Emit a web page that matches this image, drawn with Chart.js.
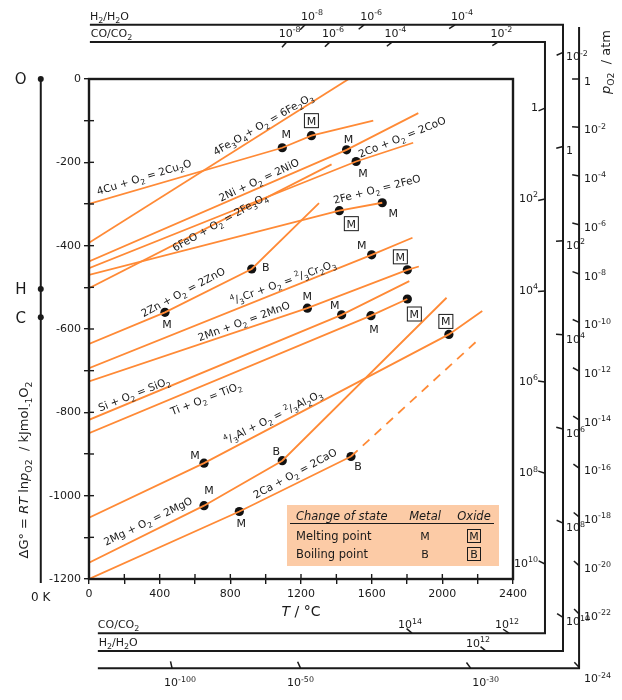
<!DOCTYPE html>
<html lang="en">
<head>
<meta charset="UTF-8">
<title>Ellingham diagram</title>
<script src="https://cdn.jsdelivr.net/npm/chart.js"></script>
<style>
    html, body { margin: 0; padding: 0; background: #ffffff; }
    #wrap { width: 622px; height: 700px; }
</style>
</head>
<body>
<div id="wrap"><canvas id="ellingham" width="622" height="700"></canvas></div>
<script>
// temperature in °C, dG in kJ per mol O2
const cuT = [0, 1094, 1259, 1609];
const cuG = [-300, -165, -136, -100];
const fe3o4T = [0, 1470];
const fe3o4G = [-393, 0];
const niT = [0, 1458, 1864];
const niG = [-438, -170, -82];
const coT = [0, 1512, 1835];
const coG = [-454, -198, -153];
const feT = [0, 1417, 1660];
const feG = [-470, -316, -297];
const feoT = [0, 1373];
const feoG = [-502, -205];
const znT = [0, 430, 921, 1302];
const znG = [-636, -560, -456, -298];
const crT = [0, 1600, 1831];
const crG = [-694, -422, -381];
const mnT = [0, 1236, 1802, 1867];
const mnG = [-726, -550, -458, -450];
const siT = [0, 1430, 1813];
const siG = [-818, -566, -485];
const tiT = [0, 1596, 1802];
const tiG = [-850, -568, -528];
const alT = [0, 651, 2037, 2226];
const alG = [-1053, -922, -613, -557];
const mgT = [0, 651, 1094, 2024];
const mgG = [-1161, -1024, -916, -525];
const caT = [0, 851, 1483];
const caG = [-1200, -1038, -906];
const caGasT = [1483, 2213];
const caGasG = [-906, -622];

// melting / boiling points
const markT = [1094, 1259, 1458, 1512, 1417, 1660, 921, 430, 1600, 1802, 1236, 1430, 1596, 1802, 2037, 651, 651, 1094, 851, 1483];
const markG = [-165, -136, -170, -198, -316, -297, -456, -560, -422, -458, -550, -566, -568, -528, -613, -922, -1024, -916, -1038, -906];
const markText = ['M', 'M', 'M', 'M', 'M', 'M', 'B', 'M', 'M', 'M', 'M', 'M', 'M', 'M', 'M', 'M', 'M', 'B', 'M', 'B'];
const markOxide = [false, true, false, false, true, false, false, false, false, true, false, false, false, true, true, false, false, false, false, false];

const reactionLabels = [
    '4Cu + O_{2} = 2Cu_{2}O', '4Fe_{3}O_{4}+ O_{2} = 6Fe_{2}O_{3}', '2Ni + O_{2} = 2NiO',
    '6FeO + O_{2} = 2Fe_{3}O_{4}', '2Co + O_{2} = 2CoO', '2Fe + O_{2} = 2FeO', '2Zn + O_{2} = 2ZnO',
    '^{4}/_{3}Cr + O_{2} = ^{2}/_{3}Cr_{2}O_{3}', '2Mn + O_{2} = 2MnO', 'Si + O_{2} = SiO_{2}',
    'Ti + O_{2} = TiO_{2}', '^{4}/_{3}Al + O_{2} = ^{2}/_{3}Al_{2}O_{3}', '2Mg + O_{2} = 2MgO', '2Ca + O_{2} = 2CaO'
];

// nomograph scales (positions)
const refNames = ['O', 'H', 'C'];
const refG = [0, -504, -572];
const pO2Labels = ['1', '10^{-2}', '10^{-4}', '10^{-6}', '10^{-8}', '10^{-10}', '10^{-12}', '10^{-14}', '10^{-16}', '10^{-18}', '10^{-20}', '10^{-22}', '10^{-24}'];
const pO2RightG = [0, -116, -233, -350, -468, -584, -701, -818, -934, -1051, -1168, -1284, -1412];
const pO2BottomLabels = ['10^{-100}', '10^{-50}', '10^{-30}'];
const pO2BottomT = [470, 1197, 2160];
const h2RightLabels = ['10^{-2}', '1', '10^{2}', '10^{4}', '10^{6}', '10^{8}', '10^{10}'];
const h2RightG = [64, -162, -388, -614, -840, -1066, -1292];
const h2TopLabels = ['10^{-8}', '10^{-6}', '10^{-4}'];
const h2TopT = [1223, 1557, 2072];
const h2BottomLabels = ['10^{12}'];
const h2BottomT = [2247];
const coRightLabels = ['1', '10^{2}', '10^{4}', '10^{6}', '10^{8}', '10^{10}'];
const coRightG = [-70, -288, -509, -727, -946, -1164];
const coTopLabels = ['10^{-8}', '10^{-6}', '10^{-4}', '10^{-2}'];
const coTopT = [1119, 1364, 1717, 2317];
const coBottomLabels = ['10^{14}', '10^{12}'];
const coBottomT = [1828, 2377];

// ---- styling / placement ----
const ORANGE = '#FF8A36';
const INK = '#1a1a1a';
const FONT = '"DejaVu Sans", Verdana, sans-serif';
const T0K = -273;

const labelPos = [[311, -235, -17], [985, -108, -30], [962, -242, -25], [741, -343, -29.5], [1772, -139, -22],
    [1630, -264, -14.5], [532, -511, -28], [1098, -487, -20], [877, -581, -20], [255, -756, -21.5],
    [662, -766, -21], [1042, -811, -26.5], [334, -1061, -26], [1166, -946, -28.5]];
const markDx = [4, 0, 2, 7, 12, 11, 14, 2, -10, -7, 0, -7, 3, 7, -3, -9, 5, -6, 2, 7];
const markDy = [-14, -15, -11, 12, 13, 10, -2, 12, -10, -13, -12, -10, 13, 15, -13, -8, -16, -10, 12, 10];

function parseRich(s) {
    const out = [];
    let it = false;
    s.split(/(_\{[^}]*\}|\^\{[^}]*\}|\*)/).forEach(p => {
        if (!p) return;
        if (p === '*') { it = !it; return; }
        if (p.startsWith('_{')) out.push({ t: p.slice(2, -1), m: 'sub', it });
        else if (p.startsWith('^{')) out.push({ t: p.slice(2, -1), m: 'sup', it });
        else out.push({ t: p, m: 'n', it });
    });
    return out;
}

// draws text with sub/superscripts, centred vertically on y
function rich(ctx, s, x, y, o) {
    o = o || {};
    const size = o.size || 11;
    const align = o.align || 'center';
    const segs = parseRich(s);
    const fontOf = g => (g.it ? 'italic ' : '') + (g.m === 'n' ? size : size * 0.72) + 'px ' + FONT;
    let w = 0;
    segs.forEach(g => { ctx.font = fontOf(g); g.w = ctx.measureText(g.t).width; w += g.w; });
    ctx.save();
    ctx.translate(x, y);
    if (o.rot) ctx.rotate(o.rot * Math.PI / 180);
    ctx.fillStyle = INK;
    ctx.textAlign = 'left';
    ctx.textBaseline = 'alphabetic';
    let cx = align === 'center' ? -w / 2 : (align === 'right' ? -w : 0);
    const base = size * 0.36;
    segs.forEach(g => {
        ctx.font = fontOf(g);
        const dy = g.m === 'sub' ? size * 0.3 : (g.m === 'sup' ? -size * 0.42 : 0);
        ctx.fillText(g.t, cx, base + dy);
        cx += g.w;
    });
    ctx.restore();
    return w;
}

function seg(ctx, x1, y1, x2, y2) {
    ctx.beginPath(); ctx.moveTo(x1, y1); ctx.lineTo(x2, y2); ctx.stroke();
}

function poly(ctx, pts) {
    ctx.beginPath();
    pts.forEach((p, i) => i ? ctx.lineTo(p[0], p[1]) : ctx.moveTo(p[0], p[1]));
    ctx.stroke();
}

// nomograph tick: short stroke pointing to the reference point
function rayTick(ctx, px, py, o) {
    const dx = o[0] - px, dy = o[1] - py, d = Math.hypot(dx, dy);
    seg(ctx, px, py, px + dx / d * 7, py + dy / d * 7);
}

function boxed(ctx, ch, x, y, sz) {
    rich(ctx, ch, x, y, { size: 11 });
    ctx.lineWidth = 1;
    ctx.strokeRect(x - sz / 2, y - sz / 2, sz, sz);
}

const decor = {
    id: 'decor',
    afterDraw(chart) {
        const ctx = chart.ctx, ca = chart.chartArea;
        const X = v => chart.scales.x.getPixelForValue(v);
        const Y = v => chart.scales.y.getPixelForValue(v);
        ctx.save();
        ctx.strokeStyle = INK;
        ctx.fillStyle = INK;

        // inner half of the axis ticks and the frame
        ctx.lineWidth = 1.4;
        for (let g = -1100; g <= -100; g += 100) seg(ctx, ca.left, Y(g), ca.left + 5, Y(g));
        for (let t = 200; t <= 2200; t += 200) seg(ctx, X(t), ca.bottom, X(t), ca.bottom - 5);
        ctx.lineWidth = 2.4;
        ctx.strokeRect(ca.left, ca.top, ca.right - ca.left, ca.bottom - ca.top);

        // 0 K line with O, H, C points
        const x0 = X(T0K);
        ctx.lineWidth = 2;
        seg(ctx, x0, Y(0), x0, Y(-1200) + 4);
        const refPt = {};
        refNames.forEach((n, i) => {
            refPt[n] = [x0, Y(refG[i])];
            ctx.beginPath(); ctx.arc(x0, Y(refG[i]), 3, 0, 2 * Math.PI); ctx.fill();
            rich(ctx, n, x0 - 20, Y(refG[i]), { size: 15 });
        });
        rich(ctx, '0 K', x0, Y(-1200) + 18, { size: 12 });

        // frames of the three extra scales
        const coR = X(2581), coTop = Y(89), coBot = Y(-1330);
        const h2R = X(2683), h2Top = Y(130), h2Bot = Y(-1373);
        const poR = X(2774), poTop = Y(125), poBot = Y(-1414);
        ctx.lineWidth = 2;
        poly(ctx, [[X(5), h2Top], [h2R, h2Top], [h2R, h2Bot], [X(50), h2Bot]]);
        poly(ctx, [[X(5), coTop], [coR, coTop], [coR, coBot], [X(50), coBot]]);
        poly(ctx, [[poR, poTop], [poR, poBot], [X(50), poBot]]);
        rich(ctx, 'H_{2}/H_{2}O', X(5), h2Top - 9, { align: 'left' });
        rich(ctx, 'CO/CO_{2}', X(10), coTop - 9, { align: 'left' });
        rich(ctx, 'CO/CO_{2}', X(50), coBot - 9, { align: 'left' });
        rich(ctx, 'H_{2}/H_{2}O', X(55), h2Bot - 9, { align: 'left' });

        ctx.lineWidth = 1.5;
        // pO2 scale
        pO2RightG.forEach((g, i) => {
            rayTick(ctx, poR, Y(g), refPt.O);
            rich(ctx, pO2Labels[i], poR + 5, Y(g) + (i === pO2RightG.length - 1 ? 11 : 2), { align: 'left' });
        });
        const poDx = [8, 0, 15];
        pO2BottomT.forEach((t, i) => {
            rayTick(ctx, X(t), poBot, refPt.O);
            rich(ctx, pO2BottomLabels[i], X(t) + poDx[i], poBot + 14);
        });
        // H2/H2O scale
        h2RightG.forEach((g, i) => {
            rayTick(ctx, h2R, Y(g), refPt.H);
            rich(ctx, h2RightLabels[i], h2R + 3, Y(g) + 4, { align: 'left' });
        });
        h2TopT.forEach((t, i) => {
            rayTick(ctx, X(t), h2Top, refPt.H);
            rich(ctx, h2TopLabels[i], X(t) + 7, h2Top - 9);
        });
        h2BottomT.forEach((t, i) => {
            rayTick(ctx, X(t), h2Bot, refPt.H);
            rich(ctx, h2BottomLabels[i], X(t) - 8, h2Bot - 8);
        });
        // CO/CO2 scale
        coRightG.forEach((g, i) => {
            rayTick(ctx, coR, Y(g), refPt.C);
            rich(ctx, coRightLabels[i], coR - 7, Y(g) - 1, { align: 'right' });
        });
        coTopT.forEach((t, i) => {
            rayTick(ctx, X(t), coTop, refPt.C);
            rich(ctx, coTopLabels[i], X(t) + 3, coTop - 9);
        });
        coBottomT.forEach((t, i) => {
            rayTick(ctx, X(t), coBot, refPt.C);
            rich(ctx, coBottomLabels[i], X(t) - 2, coBot - 9);
        });

        // reaction labels
        reactionLabels.forEach((s, i) => {
            const p = labelPos[i];
            rich(ctx, s, X(p[0]), Y(p[1]), { size: 10.5, rot: p[2] });
        });

        // M / B next to the dots
        markT.forEach((t, i) => {
            const x = X(t) + markDx[i], y = Y(markG[i]) + markDy[i];
            if (markOxide[i]) boxed(ctx, markText[i], x, y, 14);
            else rich(ctx, markText[i], x, y, { size: 11 });
        });

        // legend box
        const lx = ca.left + 198, ly = ca.top + 426;
        ctx.fillStyle = '#FCCBA6';
        ctx.fillRect(lx, ly, 212, 61);
        ctx.lineWidth = 1;
        seg(ctx, lx + 3, ly + 18.5, lx + 207, ly + 18.5);
        rich(ctx, '*Change of state*', lx + 9, ly + 11, { align: 'left', size: 11.5 });
        rich(ctx, '*Metal*', lx + 138, ly + 11, { size: 11.5 });
        rich(ctx, '*Oxide*', lx + 187, ly + 11, { size: 11.5 });
        rich(ctx, 'Melting point', lx + 9, ly + 31, { align: 'left', size: 11.5 });
        rich(ctx, 'Boiling point', lx + 9, ly + 49, { align: 'left', size: 11.5 });
        rich(ctx, 'M', lx + 138, ly + 31, { size: 11 });
        rich(ctx, 'B', lx + 138, ly + 49, { size: 11 });
        boxed(ctx, 'M', lx + 187, ly + 31, 13);
        boxed(ctx, 'B', lx + 187, ly + 49, 13);

        // axis titles
        rich(ctx, '*T* / °C', (ca.left + ca.right) / 2, ca.bottom + 32, { size: 14 });
        rich(ctx, 'ΔG° = *RT* ln*p*_{O2}  / kJmol_{-1}O_{2}', 23, 470, { size: 13, rot: -90 });
        rich(ctx, '*p*_{O2}  / atm', 605, 62, { size: 13, rot: -90 });

        ctx.restore();
    }
};

const toPoints = (ts, gs) => ts.map((t, i) => ({ x: t, y: gs[i] }));
const lineSeries = [
    [cuT, cuG], [fe3o4T, fe3o4G], [niT, niG], [coT, coG], [feT, feG], [feoT, feoG], [znT, znG],
    [crT, crG], [mnT, mnG], [siT, siG], [tiT, tiG], [alT, alG], [mgT, mgG], [caT, caG]
];

const datasets = lineSeries.map(s => ({
    data: toPoints(s[0], s[1]),
    showLine: true,
    borderColor: ORANGE,
    borderWidth: 1.8,
    pointRadius: 0,
    fill: false
}));
datasets.push({
    data: toPoints(caGasT, caGasG),
    showLine: true,
    borderColor: ORANGE,
    borderWidth: 1.8,
    borderDash: [9, 7],
    pointRadius: 0
});
datasets.push({
    data: toPoints(markT, markG),
    showLine: false,
    pointRadius: 4.6,
    pointBackgroundColor: '#111111',
    pointBorderWidth: 0
});

const axisFont = { family: FONT, size: 11 };

new Chart(document.getElementById('ellingham'), {
    type: 'scatter',
    data: { datasets: datasets },
    options: {
        responsive: false,
        animation: false,
        events: [],
        layout: { padding: { left: 0, top: 79, right: 109, bottom: 0 } },
        plugins: { legend: { display: false }, tooltip: { enabled: false } },
        scales: {
            x: {
                type: 'linear', min: 0, max: 2400,
                afterFit: s => { s.height = 121; },
                border: { display: false },
                grid: { drawOnChartArea: false, tickLength: 5, color: INK, lineWidth: 1.4 },
                ticks: {
                    stepSize: 200, autoSkip: false, maxRotation: 0, padding: 4, color: INK, font: axisFont,
                    callback: v => v % 400 === 0 ? String(v) : ''
                }
            },
            y: {
                type: 'linear', min: -1200, max: 0,
                afterFit: s => { s.width = 89; },
                border: { display: false },
                grid: { drawOnChartArea: false, tickLength: 5, color: INK, lineWidth: 1.4 },
                ticks: {
                    stepSize: 100, autoSkip: false, padding: 3, color: INK, font: axisFont,
                    callback: v => v % 200 === 0 ? String(v) : ''
                }
            }
        }
    },
    plugins: [decor]
});
</script>
</body>
</html>
